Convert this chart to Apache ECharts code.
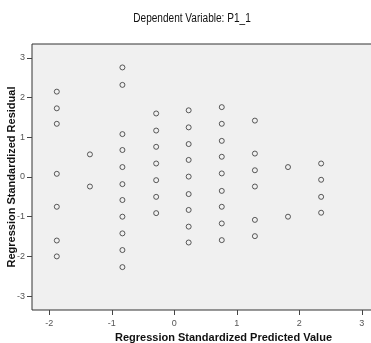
<!DOCTYPE html>
<html><head><meta charset="utf-8">
<script src="https://cdn.jsdelivr.net/npm/echarts@6/dist/echarts.min.js"></script>
<style>html,body{margin:0;padding:0;background:#fff}#c{width:371px;height:343px}</style>
</head><body><div id="c"></div>
<script>
const titleText = "Dependent Variable: P1_1";
const xName = "Regression Standardized Predicted Value";
const yName = "Regression Standardized Residual";
const tickValues = [-3, -2, -1, 0, 1, 2, 3];
// predicted value per column and residuals in that column
const colX = [-1.88, -1.35, -0.83, -0.29, 0.23, 0.76, 1.29, 1.82, 2.35];
const col1 = [2.15, 1.73, 1.34, 0.08, -0.75, -1.60, -2.00];
const col2 = [0.57, -0.24];
const col3 = [2.76, 2.32, 1.08, 0.68, 0.25, -0.18, -0.58, -1.00, -1.42, -1.84, -2.27];
const col4 = [1.60, 1.17, 0.76, 0.34, -0.08, -0.50, -0.91];
const col5 = [1.68, 1.25, 0.83, 0.43, 0.01, -0.43, -0.83, -1.25, -1.65];
const col6 = [1.76, 1.34, 0.91, 0.51, 0.09, -0.35, -0.75, -1.17, -1.59];
const col7 = [1.42, 0.59, 0.17, -0.24, -1.08, -1.49];
const col8 = [0.25, -1.00];
const col9 = [0.34, -0.07, -0.50, -0.90];
const cols = [col1, col2, col3, col4, col5, col6, col7, col8, col9];
const points = [];
cols.forEach((c, i) => c.forEach(v => points.push([colX[i], v])));

const chart = echarts.init(document.getElementById('c'));
const tickFont = {fontFamily: 'Liberation Sans, Arial', fontSize: 9, color: '#555'};
chart.setOption({
  animation: false,
  graphic: [{type: 'text', x: 192, y: 19, scaleX: 0.84,
    style: {text: titleText, fontFamily: 'Liberation Sans, Arial', fontSize: 12, fill: '#111',
      textAlign: 'center', textVerticalAlign: 'middle'}}],
  grid: {left: 32, top: 44, right: -2, bottom: 33, containLabel: false, outerBoundsMode: 'none',
    show: true, backgroundColor: '#f0f0f0', borderColor: '#333', borderWidth: 1},
  xAxis: {type: 'value', min: -2.277, max: 3.18,
    name: xName, nameLocation: 'middle', nameGap: 22, nameMoveOverlap: false,
    nameTextStyle: {fontFamily: 'Liberation Sans, Arial', fontSize: 11, fontWeight: 'bold', color: '#111', padding: [0, 0, 0, 42]},
    axisLine: {show: false, onZero: false}, splitLine: {show: false},
    axisTick: {show: true, length: 5, lineStyle: {color: '#444'}, customValues: tickValues.slice(1)},
    axisLabel: Object.assign({margin: 9, customValues: tickValues.slice(1)}, tickFont)},
  yAxis: {type: 'value', min: -3.35, max: 3.35,
    name: yName, nameLocation: 'middle', nameGap: 15, nameMoveOverlap: false,
    nameTextStyle: {fontFamily: 'Liberation Sans, Arial', fontSize: 11, fontWeight: 'bold', color: '#111'},
    axisLine: {show: false, onZero: false}, splitLine: {show: false},
    axisTick: {show: true, length: 5, lineStyle: {color: '#444'}, customValues: tickValues},
    axisLabel: Object.assign({margin: 7, customValues: tickValues}, tickFont)},
  series: [{type: 'scatter', data: points, symbol: 'circle', symbolSize: 5,
    itemStyle: {color: 'rgba(0,0,0,0)', borderColor: '#333', borderWidth: 1}}]
});
</script></body></html>
